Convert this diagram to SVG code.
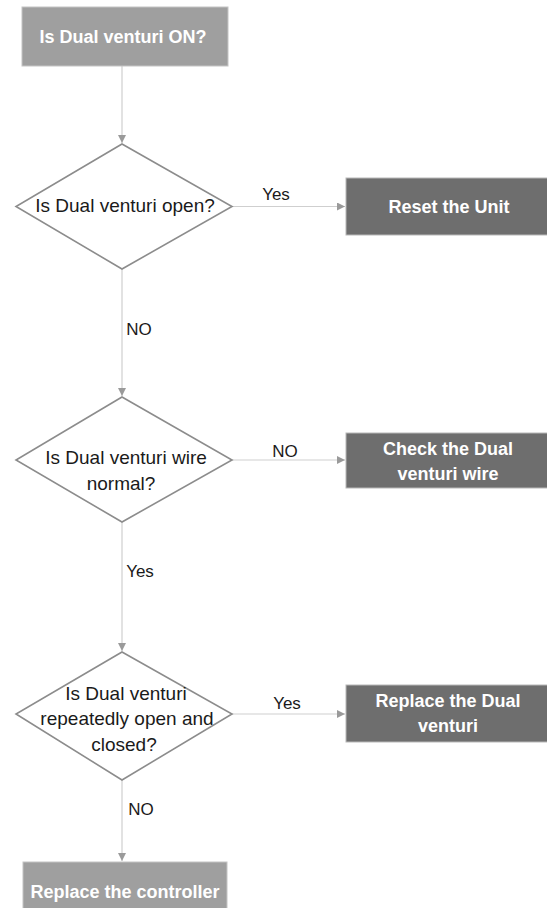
<svg xmlns="http://www.w3.org/2000/svg" width="547" height="908" viewBox="0 0 547 908">
  <style>
    .bg { fill: #ffffff; }
    .start { fill: #9f9f9f; stroke: #c4c4c4; stroke-width: 1; }
    .action { fill: #6e6e6e; stroke: #b8b8b8; stroke-width: 1; }
    .decision { fill: #ffffff; stroke: #8c8c8c; stroke-width: 1.6; }
    .link { fill: none; stroke: #cfcfcf; stroke-width: 1.2; marker-end: url(#arrow); }
    .box-text { font-family: "Liberation Sans", Arial, sans-serif; font-size: 18px; font-weight: bold; fill: #ffffff; text-anchor: middle; }
    .q-text { font-family: "Liberation Sans", Arial, sans-serif; font-size: 19px; fill: #1a1a1a; text-anchor: middle; }
    .label { font-family: "Liberation Sans", Arial, sans-serif; font-size: 17px; fill: #1a1a1a; text-anchor: middle; }
  </style>
  <defs>
    <marker id="arrow" viewBox="0 0 10 10" refX="10" refY="5" markerWidth="8" markerHeight="8" markerUnits="userSpaceOnUse" orient="auto">
      <path d="M0,0 L10,5 L0,10 z" fill="#9a9a9a"/>
    </marker>
  </defs>

  <rect class="bg" x="0" y="0" width="547" height="908"/>

  <!-- connectors -->
  <g id="connectors">
    <line class="link" x1="122" y1="66" x2="122" y2="143"/>
    <line class="link" x1="232" y1="206.5" x2="345" y2="206.5"/>
    <line class="link" x1="122" y1="269" x2="122" y2="396"/>
    <line class="link" x1="232" y1="460" x2="345" y2="460"/>
    <line class="link" x1="122" y1="522" x2="122" y2="651"/>
    <line class="link" x1="232" y1="714" x2="345" y2="714"/>
    <line class="link" x1="122" y1="780" x2="122" y2="861"/>
    <text class="label" x="276" y="200">Yes</text>
    <text class="label" x="139" y="335">NO</text>
    <text class="label" x="285" y="457">NO</text>
    <text class="label" x="140" y="577">Yes</text>
    <text class="label" x="287" y="709">Yes</text>
    <text class="label" x="141" y="815">NO</text>
  </g>

  <!-- start -->
  <g id="start">
    <rect class="start" x="22" y="7" width="206" height="59"/>
    <text class="box-text" x="123" y="43">Is Dual venturi ON?</text>
  </g>

  <!-- decision: open -->
  <g id="q-open">
    <polygon class="decision" points="122,144 232,206.5 122,269 16,206.5"/>
    <text class="q-text" x="125" y="212">Is Dual venturi open?</text>
  </g>

  <g id="reset-unit">
    <rect class="action" x="346" y="178" width="202" height="57"/>
    <text class="box-text" x="449" y="213">Reset the Unit</text>
  </g>

  <!-- decision: wire -->
  <g id="q-wire">
    <polygon class="decision" points="122,397 232,460 122,522 16,460"/>
    <text class="q-text" x="126" y="464">Is Dual venturi wire</text>
    <text class="q-text" x="121" y="490">normal?</text>
  </g>

  <g id="check-wire">
    <rect class="action" x="346" y="433" width="202" height="55"/>
    <text class="box-text" x="448" y="455">Check the Dual</text>
    <text class="box-text" x="448" y="480">venturi wire</text>
  </g>

  <!-- decision: cycling -->
  <g id="q-cycling">
    <polygon class="decision" points="122,652 232,714 122,780 16,714"/>
    <text class="q-text" x="126" y="700">Is Dual venturi</text>
    <text class="q-text" x="127" y="725">repeatedly open and</text>
    <text class="q-text" x="124" y="751">closed?</text>
  </g>

  <g id="replace-venturi">
    <rect class="action" x="346" y="685" width="202" height="57"/>
    <text class="box-text" x="448" y="707">Replace the Dual</text>
    <text class="box-text" x="448" y="732">venturi</text>
  </g>

  <!-- end -->
  <g id="replace-controller">
    <rect class="start" x="23" y="862" width="204" height="50"/>
    <text class="box-text" x="125" y="898">Replace the controller</text>
  </g>
</svg>
